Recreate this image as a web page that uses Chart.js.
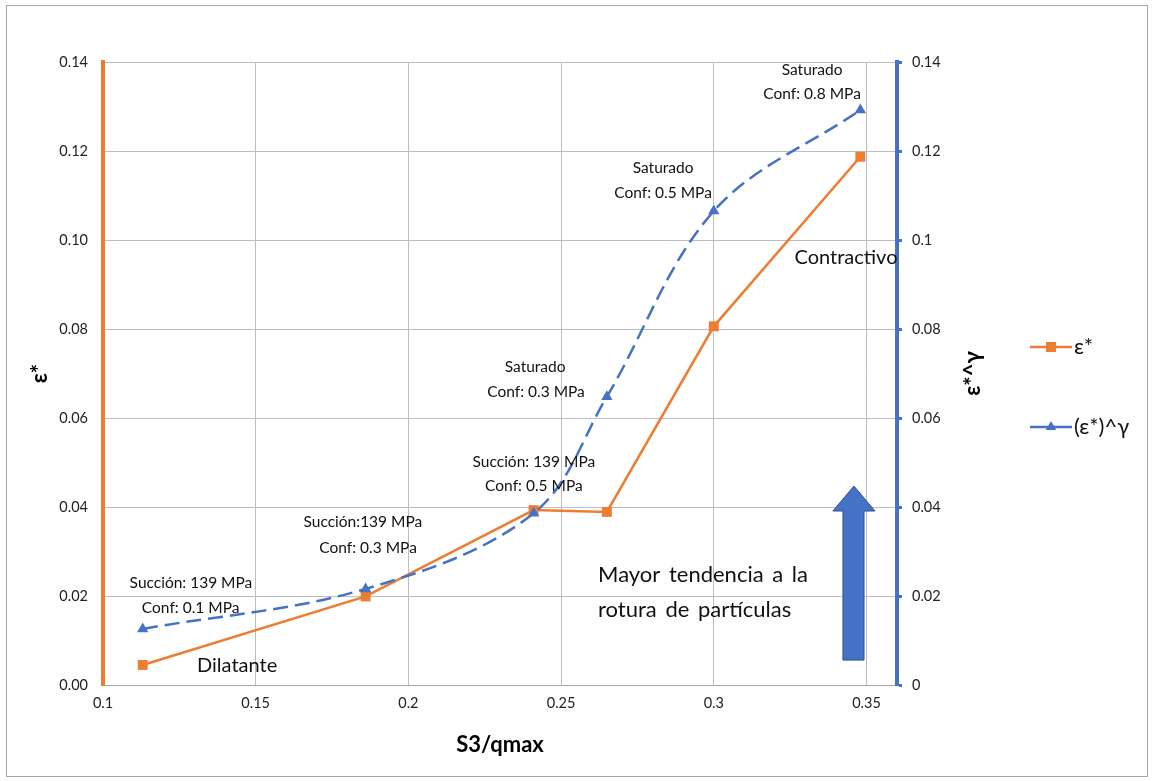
<!DOCTYPE html>
<html>
<head>
<meta charset="utf-8">
<script src="https://cdn.jsdelivr.net/npm/chart.js@4.4.1/dist/chart.umd.min.js"></script>
<style>
  html, body { margin: 0; padding: 0; background: #ffffff; }
  #wrap { width: 1153px; height: 781px; position: relative; }
  canvas { display: block; }
</style>
</head>
<body>
<div id="wrap"><canvas id="chart" width="1153" height="781"></canvas></div>
<script>
// S3/qmax for each test
const sRatio = [0.113, 0.186, 0.241, 0.265, 0.300, 0.348];
// ε* values
const epsStar = [0.0045, 0.0199, 0.0393, 0.0389, 0.0806, 0.1187];
// (ε*)^γ values
const epsGamma = [0.0126, 0.0216, 0.0386, 0.0648, 0.1065, 0.1292];
// axis ticks
const xTicks = [0.1, 0.15, 0.2, 0.25, 0.3, 0.35];
const yTicks = [0, 0.02, 0.04, 0.06, 0.08, 0.1, 0.12, 0.14];
const seriesNames = ['ε*', '(ε*)^γ'];

const ORANGE = '#ED7D31';
const BLUE = '#4472C4';
const GRID = '#BDBDBD';
const FONT = 'Lato, "Open Sans", sans-serif';

// test condition labels, placed in data units
const notes = [
  { text: 'Succión: 139 MPa', x: 0.1288, y: 0.0229, size: 15.5 },
  { text: 'Conf: 0.1 MPa',    x: 0.1287, y: 0.0173, size: 15.5 },
  { text: 'Succión:139 MPa',  x: 0.1851, y: 0.0366, size: 15.5 },
  { text: 'Conf: 0.3 MPa',    x: 0.1868, y: 0.0308, size: 15.5 },
  { text: 'Succión: 139 MPa', x: 0.2411, y: 0.0501, size: 15.5 },
  { text: 'Conf: 0.5 MPa',    x: 0.2411, y: 0.0447, size: 15.5 },
  { text: 'Saturado',         x: 0.2415, y: 0.0715, size: 15.5 },
  { text: 'Conf: 0.3 MPa',    x: 0.2418, y: 0.0658, size: 15.5 },
  { text: 'Saturado',         x: 0.2834, y: 0.1162, size: 15.5 },
  { text: 'Conf: 0.5 MPa',    x: 0.2834, y: 0.1106, size: 15.5 },
  { text: 'Saturado',         x: 0.3322, y: 0.1382, size: 15.5 },
  { text: 'Conf: 0.8 MPa',    x: 0.3322, y: 0.1328, size: 15.5 },
  { text: 'Contractivo',      x: 0.3433, y: 0.0960, size: 20 },
  { text: 'Dilatante',        x: 0.1308, y: 0.0043, size: 20, align: 'left' },
  { text: 'Mayor tendencia a la', x: 0.2621, y: 0.0247, size: 22, align: 'left', spacing: 3 },
  { text: 'rotura de partículas', x: 0.2621, y: 0.0169, size: 22, align: 'left', spacing: 3 }
];

// upward arrow (data units)
const arrow = { x0: 0.3423, x1: 0.3492, hx0: 0.3390, hx1: 0.3528, bottom: 0.0056, base: 0.0391, tip: 0.0447 };

const decorPlugin = {
  id: 'decor',
  beforeDraw(chart) {
    const ctx = chart.ctx;
    ctx.save();
    ctx.fillStyle = '#ffffff';
    ctx.fillRect(0, 0, chart.width, chart.height);
    ctx.strokeStyle = '#A6A6A6';
    ctx.lineWidth = 1;
    ctx.strokeRect(6.5, 5.5, 1141, 771);
    ctx.restore();
  },
  afterDatasetsDraw(chart) {
    const ctx = chart.ctx;
    const xs = chart.scales.x, ys = chart.scales.y;
    ctx.save();
    // arrow
    ctx.beginPath();
    ctx.moveTo(xs.getPixelForValue(arrow.x0), ys.getPixelForValue(arrow.bottom));
    ctx.lineTo(xs.getPixelForValue(arrow.x0), ys.getPixelForValue(arrow.base));
    ctx.lineTo(xs.getPixelForValue(arrow.hx0), ys.getPixelForValue(arrow.base));
    ctx.lineTo((xs.getPixelForValue(arrow.hx0) + xs.getPixelForValue(arrow.hx1)) / 2, ys.getPixelForValue(arrow.tip));
    ctx.lineTo(xs.getPixelForValue(arrow.hx1), ys.getPixelForValue(arrow.base));
    ctx.lineTo(xs.getPixelForValue(arrow.x1), ys.getPixelForValue(arrow.base));
    ctx.lineTo(xs.getPixelForValue(arrow.x1), ys.getPixelForValue(arrow.bottom));
    ctx.closePath();
    ctx.fillStyle = BLUE;
    ctx.fill();
    ctx.strokeStyle = '#2F528F';
    ctx.lineWidth = 1;
    ctx.stroke();

    // notes
    ctx.fillStyle = '#111111';
    ctx.textBaseline = 'middle';
    notes.forEach(n => {
      ctx.font = n.size + 'px ' + FONT;
      ctx.textAlign = n.align || 'center';
      ctx.wordSpacing = (n.spacing || 0) + 'px';
      ctx.fillText(n.text, xs.getPixelForValue(n.x), ys.getPixelForValue(n.y));
    });
    ctx.wordSpacing = '0px';

    // secondary axis title
    ctx.font = 'bold 22px ' + FONT;
    ctx.fillStyle = '#000000';
    ctx.textAlign = 'center';
    ctx.translate(973, (chart.chartArea.top + chart.chartArea.bottom) / 2);
    ctx.rotate(-Math.PI / 2);
    ctx.fillText('ε*^γ', 0, 0);
    ctx.restore();

    // legend
    ctx.save();
    const rows = [347, 427];
    chart.data.datasets.slice().sort((a, b) => a.legendIndex - b.legendIndex).forEach((ds, i) => {
      const y = rows[i];
      ctx.strokeStyle = ds.borderColor;
      ctx.lineWidth = ds.borderWidth;
      ctx.beginPath();
      ctx.moveTo(1030, y);
      ctx.lineTo(1072, y);
      ctx.stroke();
      ctx.fillStyle = ds.pointBackgroundColor;
      if (ds.pointStyle === 'rect') {
        ctx.fillRect(1046, y - 5, 10, 10);
      } else {
        ctx.beginPath();
        ctx.moveTo(1051, y - 6);
        ctx.lineTo(1056.2, y + 3);
        ctx.lineTo(1045.8, y + 3);
        ctx.closePath();
        ctx.fill();
      }
      ctx.fillStyle = '#111111';
      ctx.font = '22px ' + FONT;
      ctx.textAlign = 'left';
      ctx.textBaseline = 'middle';
      ctx.fillText(seriesNames[ds.legendIndex], 1074, y);
    });
    ctx.restore();
  }
};

const toPoints = ys => sRatio.map((x, i) => ({ x: x, y: ys[i] }));

new Chart(document.getElementById('chart'), {
  type: 'line',
  data: {
    datasets: [
      {
        label: seriesNames[1],
        legendIndex: 1,
        data: toPoints(epsGamma),
        yAxisID: 'y2',
        borderColor: BLUE,
        backgroundColor: BLUE,
        borderWidth: 2.5,
        borderDash: [15, 7],
        tension: 0.35,
        pointStyle: 'triangle',
        pointRadius: 6.5,
        pointBorderWidth: 0,
        pointBackgroundColor: BLUE,
        order: 0
      },
      {
        label: seriesNames[0],
        legendIndex: 0,
        data: toPoints(epsStar),
        yAxisID: 'y',
        borderColor: ORANGE,
        backgroundColor: ORANGE,
        borderWidth: 2.5,
        tension: 0,
        pointStyle: 'rect',
        pointRadius: 7,
        pointBorderWidth: 0,
        pointBackgroundColor: ORANGE,
        order: 1
      }
    ]
  },
  options: {
    responsive: false,
    animation: false,
    devicePixelRatio: 1,
    layout: { padding: { top: 62, left: 0, right: 0, bottom: 0 } },
    plugins: { legend: { display: false }, tooltip: { enabled: false } },
    scales: {
      x: {
        type: 'linear',
        min: 0.1,
        max: 0.36,
        afterBuildTicks: s => { s.ticks = xTicks.map(v => ({ value: v })); },
        afterFit: s => { s.height = 96; },
        ticks: { callback: v => String(v), font: { family: FONT, size: 14.5 }, color: '#222222', padding: 10, maxRotation: 0 },
        grid: { color: GRID, lineWidth: 1, drawTicks: false },
        border: { color: '#A6A6A6', width: 1 },
        title: { display: true, text: 'S3/qmax', font: { family: FONT, size: 22, weight: 'bold' }, color: '#000000', padding: { bottom: 23 } }
      },
      y: {
        position: 'left',
        min: 0,
        max: 0.14,
        afterBuildTicks: s => { s.ticks = yTicks.map(v => ({ value: v })); },
        afterFit: s => { s.width = 103; },
        ticks: { callback: v => v.toFixed(2), font: { family: FONT, size: 14.5 }, color: '#222222', padding: 15 },
        grid: { color: GRID, lineWidth: 1, drawTicks: false },
        border: { color: ORANGE, width: 4 },
        title: { display: true, text: 'ε*', font: { family: FONT, size: 22, weight: 'bold' }, color: '#000000', padding: { top: 27 } }
      },
      y2: {
        position: 'right',
        min: 0,
        max: 0.14,
        afterBuildTicks: s => { s.ticks = yTicks.map(v => ({ value: v })); },
        afterFit: s => { s.width = 256; },
        ticks: { callback: v => String(v), font: { family: FONT, size: 14.5 }, color: '#222222', padding: 10 },
        grid: { drawOnChartArea: false, drawTicks: true, tickLength: 5, tickColor: BLUE, tickWidth: 3 },
        border: { color: BLUE, width: 4 }
      }
    }
  },
  plugins: [decorPlugin]
});
</script>
</body>
</html>
